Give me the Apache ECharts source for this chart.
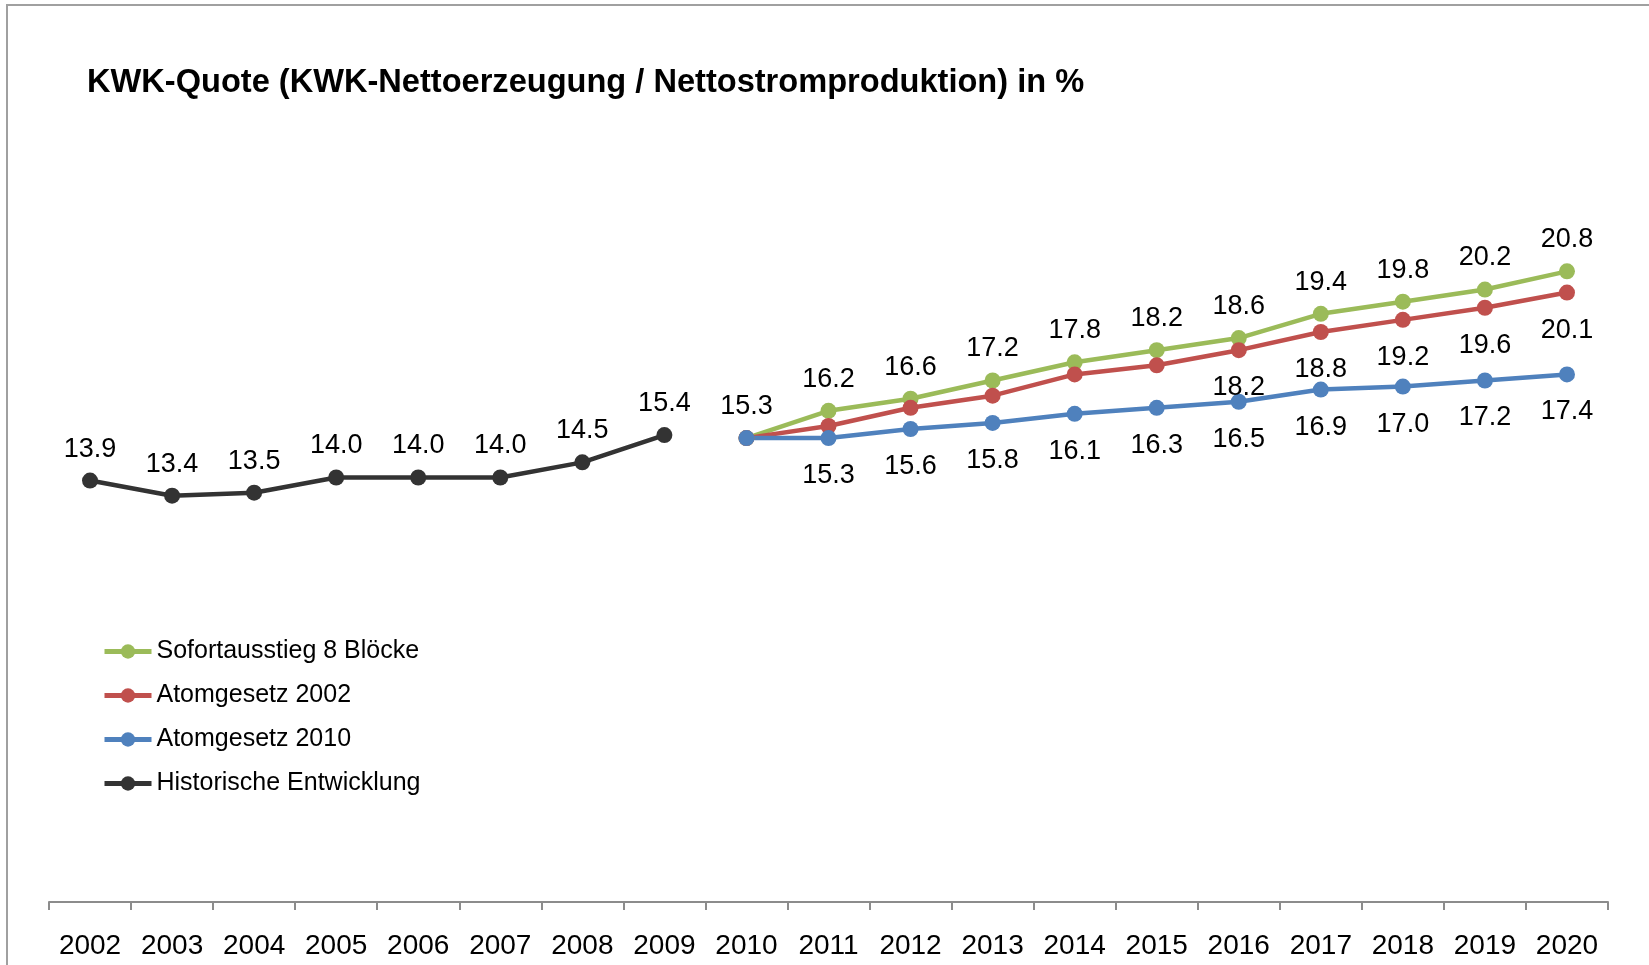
<!DOCTYPE html>
<html lang="de" style="height: 100%">
<head>
  <meta charset="utf-8" />
  <title>KWK-Quote</title>
</head>
<body style="height: 100%; margin: 0; background: #fff">
  <div id="container" style="width: 1649px; height: 965px"></div>

  <script type="text/javascript" src="https://fastly.jsdelivr.net/npm/echarts@6.0.0/dist/echarts.min.js"></script>
  <script type="text/javascript">
    // values
    var years = ['2002', '2003', '2004', '2005', '2006', '2007', '2008', '2009', '2010', '2011',
      '2012', '2013', '2014', '2015', '2016', '2017', '2018', '2019', '2020'];
    var historisch = [13.9, 13.4, 13.5, 14.0, 14.0, 14.0, 14.5, 15.4, null, null,
      null, null, null, null, null, null, null, null, null];
    var sofortausstieg = [null, null, null, null, null, null, null, null, 15.3, 16.2,
      16.6, 17.2, 17.8, 18.2, 18.6, 19.4, 19.8, 20.2, 20.8];
    var atom2002 = [null, null, null, null, null, null, null, null, 15.3, 15.7,
      16.3, 16.7, 17.4, 17.7, 18.2, 18.8, 19.2, 19.6, 20.1];
    var atom2010 = [null, null, null, null, null, null, null, null, 15.3, 15.3,
      15.6, 15.8, 16.1, 16.3, 16.5, 16.9, 17.0, 17.2, 17.4];
    // red labels are only printed from 2016 on, blue ones from 2011 on
    var atom2002LabelFrom = '2016';
    var atom2010LabelFrom = '2011';

    var FONT = 'Liberation Sans, Arial, sans-serif';

    function withLabels(values, from) {
      return values.map(function (v, i) {
        return { value: v, label: { show: years[i] >= from } };
      });
    }

    function lineSeries(name, color, data, labelPos) {
      return {
        name: name,
        type: 'line',
        data: data,
        symbol: 'circle',
        symbolSize: 16,
        connectNulls: false,
        color: color,
        lineStyle: { width: 4.5, color: color },
        itemStyle: { color: color },
        label: {
          show: true,
          position: labelPos,
          distance: labelPos === 'top' ? 10 : 16,
          fontFamily: FONT,
          fontSize: 27,
          color: '#000',
          formatter: function (p) { return p.value == null ? '' : p.value.toFixed(1); }
        },
        emphasis: { disabled: true },
        animation: false
      };
    }

    var myChart = echarts.init(document.getElementById('container'), null, { renderer: 'canvas' });

    var option = {
      backgroundColor: '#fff',
      title: {
        text: 'KWK-Quote (KWK-Nettoerzeugung / Nettostromproduktion) in %',
        left: 82,
        top: 62,
        textStyle: { fontFamily: FONT, fontSize: 32.6, fontWeight: 'bold', color: '#000' }
      },
      legend: {
        orient: 'vertical',
        left: 97,
        top: 634,
        itemWidth: 47,
        itemHeight: 18,
        itemGap: 19,
        lineStyle: { width: 5 },
        textStyle: { fontFamily: FONT, fontSize: 25, color: '#000' },
        data: ['Sofortausstieg 8 Blöcke', 'Atomgesetz 2002', 'Atomgesetz 2010', 'Historische Entwicklung']
      },
      graphic: [{
        type: 'rect',
        shape: { x: 7, y: 5, width: 1700, height: 1000 },
        style: { fill: 'none', stroke: '#a0a0a0', lineWidth: 2 },
        silent: true
      }],
      grid: { left: 49, right: 41, top: 144, bottom: 63 },
      xAxis: {
        type: 'category',
        data: years,
        boundaryGap: true,
        offset: 2,
        axisLine: { show: true, lineStyle: { color: '#8c8c8c', width: 2 } },
        axisTick: { show: true, alignWithLabel: false, interval: 0, length: 8, lineStyle: { color: '#8c8c8c', width: 2 } },
        axisLabel: { fontFamily: FONT, fontSize: 28, color: '#000', margin: 28, interval: 0 }
      },
      yAxis: {
        type: 'value',
        min: 0,
        max: 25,
        show: false
      },
      series: [
        lineSeries('Sofortausstieg 8 Blöcke', '#9bbb59', sofortausstieg, 'top'),
        lineSeries('Atomgesetz 2002', '#c0504d', withLabels(atom2002, atom2002LabelFrom), 'bottom'),
        lineSeries('Atomgesetz 2010', '#4f81bd', withLabels(atom2010, atom2010LabelFrom), 'bottom'),
        lineSeries('Historische Entwicklung', '#333333', historisch, 'top')
      ]
    };

    myChart.setOption(option);
    window.addEventListener('resize', myChart.resize);
  </script>
</body>
</html>
